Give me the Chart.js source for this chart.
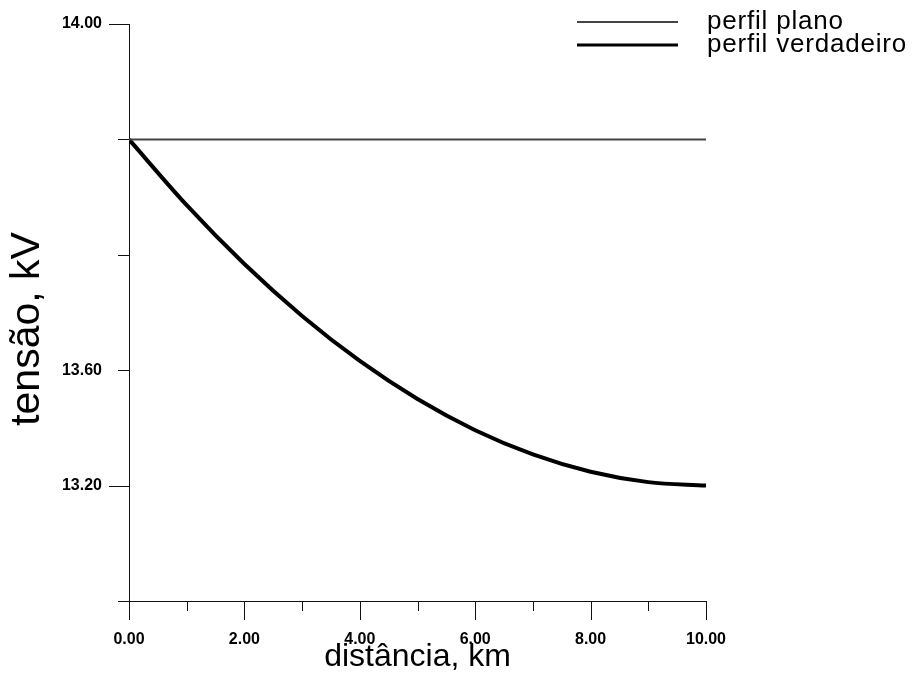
<!DOCTYPE html>
<html>
<head>
<meta charset="utf-8">
<title>tensão x distância</title>
<script src="https://cdn.jsdelivr.net/npm/chart.js@4.4.1/dist/chart.umd.min.js"></script>
<style>
  html, body { margin: 0; padding: 0; background: #fff; }
  #chart { display: block; }
</style>
</head>
<body>
<canvas id="chart" width="913" height="683"></canvas>
<script>
// valores
var distancia = [0, 1, 2, 3, 4, 5, 6, 7, 8, 9, 10];
var perfilVerdadeiro = [13.800, 13.686, 13.584, 13.494, 13.416, 13.350, 13.296, 13.254, 13.224, 13.206, 13.200];
var distanciaPlano = [0, 10];
var perfilPlano = [13.80, 13.80];

var xTickValues = [0, 2, 4, 6, 8, 10];
var xTickLabels = ['0.00', '2.00', '4.00', '6.00', '8.00', '10.00'];
var xMinorTicks = [1, 3, 5, 7, 9];

// as in the picture: the middle label sits on the 13.40 tick
var yTickValues = [13.20, 13.40, 14.00];
var yTickLabels = ['13.20', '13.60', '14.00'];
var yMajorTicks = [13.20, 14.00];
var yMinorTicks = [13.00, 13.40, 13.60, 13.80];

function toPoints(xs, ys) {
  return xs.map(function (x, i) { return {x: x, y: ys[i]}; });
}

Chart.defaults.font.family = "'Liberation Sans', Arial, sans-serif";
Chart.defaults.color = '#000';

var tickMarks = {
  id: 'tickMarks',
  afterDraw: function (chart) {
    var ctx = chart.ctx;
    var xs = chart.scales.x;
    var ys = chart.scales.y;
    var area = chart.chartArea;
    ctx.save();
    ctx.strokeStyle = '#111';
    ctx.lineWidth = 1;
    function xTick(v, len) {
      var px = Math.round(xs.getPixelForValue(v)) + 0.5;
      ctx.beginPath();
      ctx.moveTo(px, area.bottom);
      ctx.lineTo(px, area.bottom + len);
      ctx.stroke();
    }
    function yTick(v, len) {
      var py = Math.round(ys.getPixelForValue(v)) + 0.5;
      ctx.beginPath();
      ctx.moveTo(area.left, py);
      ctx.lineTo(area.left - len, py);
      ctx.stroke();
    }
    xTickValues.forEach(function (v) { xTick(v, 19); });
    xMinorTicks.forEach(function (v) { xTick(v, 10); });
    yMajorTicks.forEach(function (v) { yTick(v, 20); });
    yMinorTicks.forEach(function (v) { yTick(v, 11); });

    // y title
    ctx.translate(28, 329);
    ctx.rotate(-Math.PI / 2);
    ctx.fillStyle = '#000';
    ctx.font = "41px 'Liberation Sans', Arial, sans-serif";
    ctx.textAlign = 'center';
    ctx.textBaseline = 'middle';
    ctx.fillText('tensão, kV', 0, 0);
    ctx.restore();
  }
};

var lineLegend = {
  id: 'lineLegend',
  afterDraw: function (chart) {
    var ctx = chart.ctx;
    ctx.save();
    ctx.font = "26px 'Liberation Sans', Arial, sans-serif";
    ctx.letterSpacing = '0.8px';
    ctx.textBaseline = 'middle';
    ctx.fillStyle = '#000';
    chart.data.datasets.forEach(function (ds, i) {
      var y = 22 + i * 23;
      ctx.strokeStyle = ds.borderColor;
      ctx.lineWidth = ds.legendWidth;
      ctx.beginPath();
      ctx.moveTo(577, y);
      ctx.lineTo(678, y);
      ctx.stroke();
      ctx.fillText(ds.label, 707, y);
    });
    ctx.restore();
  }
};

var chart = new Chart(document.getElementById('chart'), {
  type: 'line',
  data: {
    datasets: [{
      label: 'perfil plano',
      data: toPoints(distanciaPlano, perfilPlano),
      borderColor: '#444',
      borderWidth: 2,
      legendWidth: 2,
      pointRadius: 0
    }, {
      label: 'perfil verdadeiro',
      data: toPoints(distancia, perfilVerdadeiro),
      borderColor: '#000',
      borderWidth: 4,
      legendWidth: 3,
      pointRadius: 0,
      cubicInterpolationMode: 'monotone'
    }]
  },
  options: {
    responsive: false,
    animation: false,
    layout: {padding: {top: 24, right: 207, left: 0, bottom: 0}},
    plugins: {
      legend: {display: false},
      tooltip: {enabled: false}
    },
    scales: {
      x: {
        type: 'linear',
        min: 0,
        max: 10,
        grid: {display: false, drawTicks: false},
        border: {display: true, color: '#111', width: 1},
        afterBuildTicks: function (scale) {
          scale.ticks = xTickValues.map(function (v) { return {value: v}; });
        },
        afterFit: function (scale) { scale.height = 82; },
        ticks: {
          padding: 29,
          maxRotation: 0,
          font: {size: 16, weight: 'bold'},
          callback: function (value, index) { return xTickLabels[index]; }
        },
        title: {
          display: true,
          text: 'distância, km',
          font: {size: 32},
          padding: {top: 0, bottom: 7}
        }
      },
      y: {
        type: 'linear',
        min: 13,
        max: 14,
        grid: {display: false, drawTicks: false},
        border: {display: true, color: '#111', width: 1},
        afterBuildTicks: function (scale) {
          scale.ticks = yTickValues.map(function (v) { return {value: v}; });
        },
        afterFit: function (scale) {
          scale.width = 129;
          scale.paddingTop = 0;
          scale.paddingBottom = 0;
        },
        ticks: {
          padding: 27,
          font: {size: 16, weight: 'bold'},
          callback: function (value, index) { return yTickLabels[index]; }
        }
      }
    }
  },
  plugins: [tickMarks, lineLegend]
});
</script>
</body>
</html>
